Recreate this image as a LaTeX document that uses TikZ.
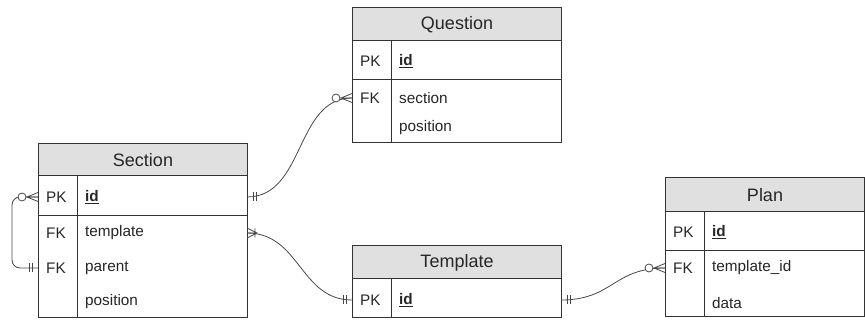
\documentclass[tikz,border=0pt]{standalone}
\usepackage{fontspec}
\setmainfont{Liberation Sans}
\definecolor{hdrfill}{HTML}{E0E0E0}
\definecolor{edgecol}{HTML}{333333}
\begin{document}
\begin{tikzpicture}[x=1pt,y=-1pt,
  tbl/.style={draw=edgecol, line width=1pt, fill=white},
  hdr/.style={draw=edgecol, line width=1pt, fill=hdrfill, anchor=north west, inner sep=0pt, font=\fontsize{18}{20}\selectfont, text=black!85},
  row/.style={anchor=west, inner sep=0pt, font=\fontsize{15.3}{17}\selectfont, text=black!85},
  conn/.style={draw=edgecol!90, line width=0.8pt},
  mone/.pic={\draw[conn] (6,-4.5)--(6,4.5) (9,-4.5)--(9,4.5);},
  zmany/.pic={\draw[conn] (0,-4.5)--(11,0)--(0,4.5) (0,0)--(12,0); \draw[conn,fill=white] (16,0) circle (4);},
  omany/.pic={\draw[conn] (0,-5)--(10,0)--(0,5) (0,0)--(10,0) (8,-4.5)--(8,4.5);}
]
\useasboundingbox (0,0) rectangle (865,320);

% ---------- Section ----------
\node[hdr, minimum width=209, minimum height=33] (sec) at (38,143) {Section};
\draw[tbl] (38,176) rectangle (247,318);
\draw[edgecol, line width=1pt] (38,216) -- (247,216) (77,176) -- (77,318);
\node[row] (secpk) at (46,197) {PK};
\node[row] (secid) at (85,197) {\underline{\textbf{id}}};
\node[row] (secfk1) at (46,233) {FK};
\node[row] (sectpl) at (85,233) {template};
\node[row] (secfk2) at (46,268) {FK};
\node[row] (secpar) at (85,268) {parent};
\node[row] (secpos) at (85,302) {position};
\coordinate (secidR) at (247,197);
\coordinate (secidL) at (38,197);
\coordinate (sectplR) at (247,233);
\coordinate (secparL) at (38,268);

% ---------- Question ----------
\node[hdr, minimum width=209, minimum height=34] (que) at (352,7) {Question};
\draw[tbl] (352,41) rectangle (561,143);
\draw[edgecol, line width=1pt] (352,80) -- (561,80) (391,41) -- (391,143);
\node[row] (quepk) at (360,61) {PK};
\node[row] (queid) at (399,61) {\underline{\textbf{id}}};
\node[row] (quefk) at (360,98) {FK};
\node[row] (quesec) at (399,98) {section};
\node[row] (quepos) at (399,128) {position};
\coordinate (quesecL) at (352,98);

% ---------- Template ----------
\node[hdr, minimum width=209, minimum height=34] (tpl) at (352,245) {Template};
\draw[tbl] (352,279) rectangle (561,318);
\draw[edgecol, line width=1pt] (391,279) -- (391,318);
\node[row] (tplpk) at (360,300) {PK};
\node[row] (tplid) at (399,300) {\underline{\textbf{id}}};
\coordinate (tplidL) at (352,300);
\coordinate (tplidR) at (561,300);

% ---------- Plan ----------
\node[hdr, minimum width=199, minimum height=35] (pln) at (665,177) {Plan};
\draw[tbl] (665,212) rectangle (864,317);
\draw[edgecol, line width=1pt] (665,251) -- (864,251) (704,212) -- (704,317);
\node[row] (plnpk) at (673,232) {PK};
\node[row] (plnid) at (712,232) {\underline{\textbf{id}}};
\node[row] (plnfk) at (673,268) {FK};
\node[row] (plntid) at (712,268) {template\_id};
\node[row] (plndat) at (712,303) {data};
\coordinate (plntidL) at (665,268);

% ---------- connectors ----------
\draw[conn] (secidR) .. controls (305,197) and (295,98) .. (quesecL);
\draw[conn] (sectplR) .. controls (300,233) and (300,300) .. (tplidL);
\draw[conn] (tplidR) .. controls (613,300) and (613,268) .. (plntidL);
\draw[conn, rounded corners=8] (secidL) -- (12,197) -- (12,268) -- (secparL);

% ---------- end symbols ----------
\pic at (secidR) {mone};
\pic[xscale=-1] at (quesecL) {zmany};
\pic at (sectplR) {omany};
\pic[xscale=-1] at (tplidL) {mone};
\pic at (tplidR) {mone};
\pic[xscale=-1] at (plntidL) {zmany};
\pic[xscale=-1] at (secidL) {zmany};
\pic[xscale=-1] at (secparL) {mone};
\end{tikzpicture}
\end{document}
